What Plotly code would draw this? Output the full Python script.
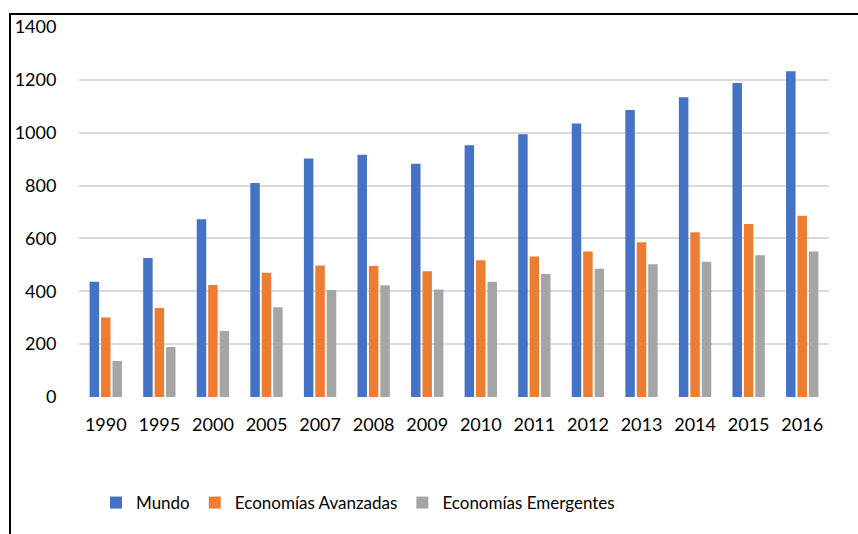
import plotly.graph_objects as go

years = ["1990", "1995", "2000", "2005", "2007", "2008", "2009", "2010",
         "2011", "2012", "2013", "2014", "2015", "2016"]
mundo = [436, 526, 673, 810, 902, 917, 883, 953, 994, 1035, 1086, 1134, 1188, 1233]
avanzadas = [301, 337, 424, 470, 498, 496, 476, 517, 532, 551, 586, 623, 655, 686]
emergentes = [136, 189, 250, 340, 405, 423, 407, 436, 465, 485, 502, 512, 536, 551]
y_ticks = [0, 200, 400, 600, 800, 1000, 1200, 1400]

series = [
    ("Mundo", mundo, "#4472C4"),
    ("Economías Avanzadas", avanzadas, "#ED7D31"),
    ("Economías Emergentes", emergentes, "#A5A5A5"),
]

FONT = "Lato"

fig = go.Figure()
for name, vals, color in series:
    fig.add_trace(go.Bar(x=years, y=vals, name=name, marker_color=color,
                         marker_line_width=0))

W, H = 858, 534
ml, mr, mt, mb = 79, 29, 27, 137
pw, ph = W - ml - mr, H - mt - mb

def px_x(px):
    return (px - ml) / pw

def px_y(py):
    return (H - mb - py) / ph

fig.update_layout(
    width=W, height=H,
    margin=dict(l=ml, r=mr, t=mt, b=mb, pad=0, autoexpand=False),
    paper_bgcolor="white", plot_bgcolor="white",
    barmode="group", bargap=0.36, bargroupgap=0.17,
    font=dict(family=FONT, size=18, color="#000000"),
    showlegend=True,
    legend=dict(orientation="h", x=px_x(96), xanchor="left",
                y=px_y(503), yanchor="middle",
                font=dict(family=FONT, size=17, color="#000000"),
                bgcolor="rgba(0,0,0,0)", traceorder="normal"),
    xaxis=dict(type="category", showgrid=False, zeroline=False,
               showline=False, ticks="outside", ticklen=11,
               tickcolor="rgba(0,0,0,0)", automargin=False,
               tickfont=dict(family=FONT, size=18, color="#000000")),
    yaxis=dict(range=[0, 1400], tickvals=y_ticks, showgrid=True,
               gridcolor="#D9D9D9", gridwidth=1.5, zeroline=False,
               showline=False, ticks="outside", ticklen=18,
               tickcolor="rgba(0,0,0,0)", automargin=False,
               tickfont=dict(family=FONT, size=18, color="#000000")),
    shapes=[
        dict(type="line", xref="paper", yref="paper",
             x0=px_x(9), x1=px_x(870), y0=px_y(14), y1=px_y(14),
             line=dict(color="#000000", width=2)),
        dict(type="line", xref="paper", yref="paper",
             x0=px_x(10), x1=px_x(10), y0=px_y(13), y1=px_y(545),
             line=dict(color="#000000", width=2)),
    ],
)

fig.write_html(
    "out.html",
    config={"displayModeBar": False},
    post_script="document.body.style.margin='0';document.body.style.overflow='hidden';",
)
